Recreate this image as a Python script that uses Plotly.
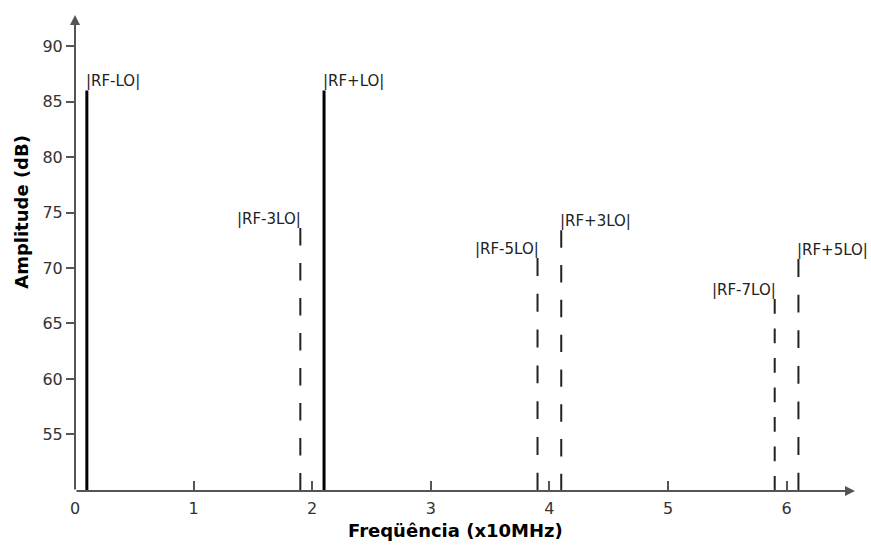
import plotly.graph_objects as go

# ---- data ----
labels = ["|RF-LO|", "|RF+LO|", "|RF-3LO|", "|RF+3LO|", "|RF-5LO|", "|RF+5LO|", "|RF-7LO|"]
freqs = [0.1, 2.1, 1.9, 4.1, 3.9, 6.1, 5.9]          # x10 MHz
amps = [86.0, 86.0, 73.6, 73.4, 70.9, 70.8, 67.2]    # dB
kinds = ["main", "main", "spur", "spur", "spur", "spur", "spur"]
label_side = ["left", "left", "right", "left", "right", "left", "right"]
x_ticks = [0, 1, 2, 3, 4, 5, 6]
y_ticks = [55, 60, 65, 70, 75, 80, 85, 90]

# ---- styling ----
X_RANGE = [0, 6.577]
Y_RANGE = [49.9, 92.8]
AXIS_COLOR = "#555555"
dash_styles = ["solid", "solid", "17.5px,17.5px", "17.4px,17.4px",
               "17.9px,17.9px", "17.8px,17.8px", "14.75px,14.75px"]

fig = go.Figure()
for f, a, k, d in zip(freqs, amps, kinds, dash_styles):
    fig.add_trace(go.Scatter(
        x=[f, f], y=[a, Y_RANGE[0]], mode="lines",
        line=dict(color="#000000" if k == "main" else "#222222",
                  width=3 if k == "main" else 2, dash=d),
        hoverinfo="skip", showlegend=False))

for lab, f, a, side in zip(labels, freqs, amps, label_side):
    fig.add_annotation(
        x=f, y=a, text=lab, showarrow=False,
        xanchor="left" if side == "left" else "right", yanchor="bottom",
        xshift=-3 if side == "left" else 3, yshift=-2,
        font=dict(family="DejaVu Sans", size=15, color="#222222"))

# axis arrows (drawn as the axis lines)
fig.add_annotation(x=X_RANGE[1], y=Y_RANGE[0], ax=0, ay=Y_RANGE[0],
                   xref="x", yref="y", axref="x", ayref="y", text="",
                   showarrow=True, arrowhead=2, arrowsize=1, arrowwidth=2,
                   arrowcolor=AXIS_COLOR, standoff=0, startstandoff=0)
fig.add_annotation(x=0, y=Y_RANGE[1], ax=0, ay=Y_RANGE[0],
                   xref="x", yref="y", axref="x", ayref="y", text="",
                   showarrow=True, arrowhead=2, arrowsize=1, arrowwidth=2,
                   arrowcolor=AXIS_COLOR, standoff=0, startstandoff=0)

# axis titles
fig.add_annotation(text="<b>Freqüência (x10MHz)</b>", xref="paper", yref="paper",
                   x=(455 - 75) / 780, y=(490.7 - 530) / 476, showarrow=False,
                   xanchor="center", yanchor="middle",
                   font=dict(family="DejaVu Sans", size=18, color="#000000"))
fig.add_annotation(text="<b>Amplitude (dB)</b>", xref="paper", yref="paper",
                   x=(22 - 75) / 780, y=(490.7 - 211.5) / 476, showarrow=False,
                   textangle=-90, xanchor="center", yanchor="middle",
                   font=dict(family="DejaVu Sans", size=18, color="#000000"))

fig.update_xaxes(range=X_RANGE, tickmode="array", tickvals=x_ticks,
                 ticktext=[str(v) for v in x_ticks],
                 ticks="inside", ticklen=10, tickwidth=2, tickcolor=AXIS_COLOR,
                 ticklabelstandoff=6,
                 showline=False, showgrid=False, zeroline=False,
                 tickfont=dict(family="DejaVu Sans", size=16, color="#333333"))
fig.update_yaxes(range=Y_RANGE, tickmode="array", tickvals=y_ticks,
                 ticktext=[str(v) for v in y_ticks],
                 ticks="outside", ticklen=8, tickwidth=2, tickcolor=AXIS_COLOR,
                 showline=False, showgrid=False, zeroline=False,
                 tickfont=dict(family="DejaVu Sans", size=16, color="#333333"))

fig.update_layout(
    width=871, height=545,
    margin=dict(l=75, r=16, t=15, b=54, pad=0),
    plot_bgcolor="white", paper_bgcolor="white",
    showlegend=False)

fig.write_html("out.html")
